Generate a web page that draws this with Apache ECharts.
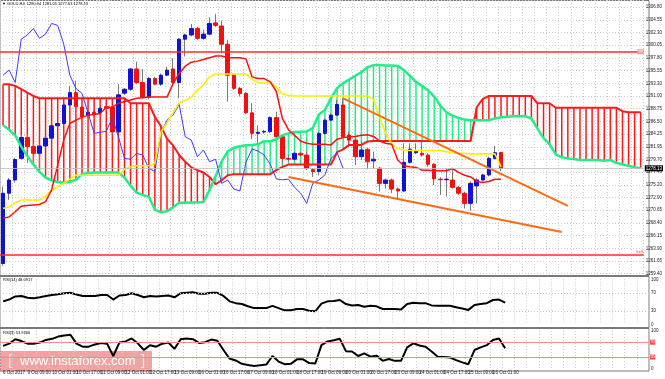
<!DOCTYPE html>
<html><head><meta charset="utf-8">
<script src="https://cdn.jsdelivr.net/npm/echarts@6/dist/echarts.min.js"></script>
<style>html,body{margin:0;padding:0;background:#fff}#c{width:665px;height:379px}</style>
</head><body><div id="c"></div>
<script>
// ---------- DATA ----------
const H6 = ['01:00','05:00','09:00','13:00','17:00','21:00'];
const sessions = [
  ['6 Oct', ['17:00','21:00']],
  ['9 Oct', H6], ['10 Oct', H6], ['11 Oct', H6], ['12 Oct', H6], ['13 Oct', H6],
  ['16 Oct', H6], ['17 Oct', H6], ['18 Oct', H6], ['19 Oct', H6], ['20 Oct', H6],
  ['23 Oct', H6], ['24 Oct', H6], ['25 Oct', H6],
  ['26 Oct', ['01:00','05:00','09:00']]
];
const FUTURE_SLOTS = 23;
const priceTickLabels = ['1259.40','1261.65','1263.90','1266.15','1268.40','1270.65','1272.90','1275.20',
  '1277.45','1279.70','1281.95','1284.25','1286.50','1288.75','1291.00','1293.30','1295.55','1297.80',
  '1300.05','1302.30','1304.55','1306.80'];

const opens = [1261.2,1273.7,1276.05,1279.9,1283.6,1282.0,1280.8,1282.1,1283.5,1285.7,
1286.1,1289.4,1291.6,1289.0,1287.5,1288.1,1288.0,1289.1,1289.0,1284.6,
1291.5,1292.2,1295.8,1293.4,1290.8,1294.1,1293.1,1294.7,1295.8,1293.4,
1301.1,1301.85,1303.0,1301.25,1302.0,1304.0,1303.45,1300.2,1294.7,1292.35,
1291.45,1288.0,1284.35,1284.6,1284.65,1287.15,1283.75,1279.9,1279.75,1280.8,
1280.5,1277.9,1277.55,1284.35,1286.7,1287.6,1289.4,1284.05,1283.15,1280.2,
1281.5,1279.45,1278.15,1275.45,1276.05,1274.45,1274.1,1279.2,1280.9,1280.8,
1280.5,1278.85,1276.2,1276.1,1276.05,1274.75,1273.7,1271.9,1275.0,1276.05,
1276.95,1279.9,1280.94];
const highs = [1274.9,1276.4,1280.0,1284.1,1284.1,1282.6,1282.5,1283.8,1285.9,1286.3,
1289.6,1292.8,1293.7,1289.3,1288.4,1288.5,1289.0,1289.3,1289.2,1293.1,
1292.4,1296.0,1297.1,1295.8,1294.4,1294.4,1295.0,1296.2,1297.7,1301.3,
1302.1,1303.8,1303.3,1302.8,1305.0,1305.6,1304.4,1301.0,1295.0,1292.6,
1291.7,1289.7,1285.8,1285.0,1287.4,1288.2,1284.0,1280.5,1281.1,1281.0,
1281.1,1278.2,1284.6,1287.0,1287.9,1290.3,1290.6,1284.65,1283.5,1282.9,
1281.8,1281.1,1278.4,1276.3,1276.3,1274.7,1282.6,1282.6,1282.6,1282.9,
1280.8,1279.1,1276.5,1278.1,1278.1,1275.0,1274.0,1275.8,1276.4,1277.2,
1280.2,1282.1,1281.05];
const lows = [1260.8,1272.5,1275.6,1279.7,1279.1,1279.1,1277.8,1281.8,1283.2,1285.4,
1285.9,1289.2,1288.9,1286.9,1287.2,1287.4,1287.8,1288.5,1284.3,1284.4,
1291.2,1291.9,1293.1,1290.5,1290.4,1292.9,1292.8,1294.5,1293.2,1290.6,
1298.0,1301.6,1301.0,1301.0,1301.8,1303.3,1298.6,1290.0,1292.1,1290.9,
1287.8,1283.3,1282.6,1284.3,1284.4,1283.5,1279.0,1279.3,1279.5,1280.2,
1277.8,1276.6,1276.9,1284.1,1286.5,1287.4,1283.5,1282.0,1278.7,1279.6,
1277.95,1278.1,1274.0,1274.55,1273.7,1272.5,1273.9,1279.0,1280.7,1280.2,
1278.4,1275.15,1273.4,1273.1,1274.5,1273.4,1271.0,1270.6,1271.9,1275.8,
1276.7,1279.7,1277.63];
const closes = [1273.7,1276.05,1279.7,1283.6,1282.0,1280.8,1282.1,1283.5,1285.7,1286.1,
1289.4,1291.6,1289.1,1287.3,1288.1,1287.8,1288.8,1288.8,1284.6,1291.2,
1292.2,1295.8,1293.4,1290.8,1294.1,1293.1,1294.7,1295.6,1293.4,1301.1,
1301.85,1303.0,1301.25,1302.0,1303.9,1303.55,1300.2,1294.7,1292.35,1291.45,
1288.0,1284.35,1284.55,1284.7,1287.15,1283.75,1279.9,1279.75,1280.8,1280.5,
1278.15,1277.55,1284.35,1286.7,1287.6,1289.5,1283.75,1283.15,1280.2,1281.4,
1279.3,1279.75,1275.45,1276.05,1274.45,1274.1,1279.2,1281.55,1281.2,1280.5,
1278.85,1276.25,1276.1,1276.2,1274.75,1273.7,1271.9,1275.45,1276.05,1276.95,
1279.9,1280.9,1278.13];

const tenkan = [1269.2,1269.5,1270.4,1271.4,1271.5,1271.6,1271.7,1272.2,1274.3,1278.7,
1283.2,1286.1,1286.7,1287.2,1287.6,1287.7,1287.9,1289.0,1289.0,1289.7,
1290.0,1290.3,1290.6,1290.7,1290.8,1290.8,1290.8,1290.8,1293.2,1295.0,
1296.3,1297.0,1297.2,1297.5,1297.8,1298.1,1298.1,1297.8,1297.8,1297.8,
1297.6,1294.4,1294.1,1294.1,1293.5,1291.8,1287.0,1285.0,1284.0,1283.0,
1282.6,1282.4,1282.4,1282.4,1282.3,1283.3,1283.6,1283.7,1283.8,1284.0,
1284.1,1283.8,1283.0,1282.6,1282.4,1279.6,1278.6,1278.4,1278.3,1277.8,
1277.8,1277.7,1277.7,1277.7,1278.1,1277.4,1276.9,1276.6,1275.8,1275.6,
1275.8,1276.2,1276.2];
const kijun = [1271.0,1271.3,1272.0,1272.5,1272.5,1272.5,1272.5,1273.2,1274.2,1274.8,
1275.5,1276.2,1276.9,1276.9,1276.9,1276.9,1276.9,1276.9,1276.9,1276.9,
1278.0,1278.4,1278.6,1278.6,1278.6,1279.0,1284.6,1286.2,1288.0,1289.8,
1290.2,1290.8,1292.0,1293.0,1294.4,1294.9,1294.9,1294.9,1294.9,1294.9,
1294.9,1294.0,1293.4,1293.3,1293.3,1292.6,1291.4,1291.1,1291.0,1291.0,
1291.0,1291.0,1291.0,1291.0,1291.0,1291.0,1291.0,1291.0,1291.0,1291.0,
1291.0,1290.4,1287.3,1284.3,1282.5,1281.6,1281.4,1281.3,1281.3,1281.3,
1281.3,1281.3,1281.3,1281.1,1280.9,1280.8,1280.8,1280.7,1280.7,1280.7,
1280.7,1280.7,1278.4];
const senkouA = [1285.8,1285.0,1284.0,1282.0,1280.3,1278.8,1277.5,1276.5,1276.0,1275.7,
1275.6,1275.7,1276.1,1277.1,1277.3,1277.4,1277.4,1277.4,1277.4,1277.4,
1276.5,1275.0,1273.8,1273.4,1273.1,1270.8,1270.3,1270.5,1271.2,1272.0,
1272.0,1272.05,1272.05,1272.15,1274.25,1276.75,1279.35,1281.15,1281.8,1282.05,
1282.25,1282.3,1282.4,1282.95,1282.95,1283.3,1284.0,1284.35,1284.6,1284.65,
1284.7,1285.3,1287.7,1288.5,1290.6,1292.4,1293.3,1293.9,1294.6,1295.25,
1296.1,1296.5,1296.5,1296.4,1296.4,1296.35,1295.6,1294.6,1293.5,1292.8,
1292.0,1290.9,1289.3,1288.1,1287.5,1287.1,1286.8,1286.7,1286.7,1286.7,
1286.7,1287.0,1287.2,1287.3,1287.4,1287.4,1287.4,1287.0,1285.2,1283.5,
1282.4,1280.6,1280.1,1279.9,1279.8,1279.6,1279.6,1279.6,1279.6,1279.5,
1279.6,1279.1,1278.8,1278.6,1278.3,1278.2];
const senkouB = [1293.1,1293.1,1292.8,1292.2,1291.6,1291.0,1290.6,1290.6,1290.6,1290.6,
1290.6,1290.6,1290.6,1290.6,1290.6,1290.6,1290.6,1290.6,1290.6,1290.6,
1290.6,1289.7,1289.7,1289.7,1289.7,1287.3,1285.6,1283.4,1282.2,1280.5,
1279.3,1278.3,1277.8,1277.4,1276.6,1275.3,1276.0,1276.9,1277.1,1277.1,
1277.1,1277.1,1277.1,1277.1,1277.1,1277.8,1278.4,1278.8,1278.8,1278.8,
1278.8,1278.8,1278.8,1278.8,1278.8,1281.0,1281.5,1282.3,1282.3,1282.3,
1282.9,1283.0,1283.0,1283.0,1283.0,1283.0,1283.0,1283.0,1283.0,1283.0,
1283.0,1283.0,1283.0,1283.0,1283.0,1283.0,1283.0,1283.0,1289.0,1290.5,
1291.0,1291.0,1291.0,1291.0,1291.0,1291.0,1291.0,1291.0,1289.7,1289.7,
1289.7,1288.9,1288.9,1288.9,1288.9,1288.9,1288.9,1288.9,1288.9,1288.9,
1288.9,1288.9,1288.3,1288.1,1288.1,1288.1];
const CHIKOU_SHIFT = 26;

const rsi14 = [51,55,62,63,59,58,60,63,65,67,
69,70,66,63,63,63,65,65,55,64,
65,69,65,60,63,62,63,64,60,69,
70,71,68,68,70,70,63,51,47,45,
40,36,36,36,41,36,31,31,34,34,
30,29,46,51,52,54,45,42,43,39,
41,40,34,34,34,33,45,48,47,47,
42,41,41,41,38,35,32,43,45,47,
54,55,48.0917];
const rsi3 = [60,66,78,73,66,66,69,76,79,85,
88,90,66,58,58,64,68,66,33,69,
72,80,67,49,62,58,66,69,52,78,
80,78,68,70,77,74,49,26,21,12,
9,6,8,10,33,18,11,12,24,24,
14,13,62,72,75,79,46,45,33,40,
31,34,20,25,20,20,56,67,61,58,
45,31,30,29,22,16,11,49,56,62,
76,80,53.9366];

// trend lines: [barIndex, price]
const upperTrend = [[56, 1290.58], [93, 1271.45]];
const lowerTrend = [[47, 1276.6], [92, 1266.8]];
const resistanceLevel = 1298.87;
const supportLevel = 1262.71;
const rsiLevels = [70, 30];

// ---------- BUILD ----------
const cats = [];
sessions.forEach(([d, hs]) => hs.forEach(h => cats.push(d + ' ' + h)));
for (let i = 0; i < FUTURE_SLOTS; i++) cats.push('');
const N = cats.length;
const lastIdx = closes.length - 1;
const chikou = cats.map((_, i) => (i + CHIKOU_SHIFT <= lastIdx ? closes[i + CHIKOU_SHIFT] : null));
const wickData = opens.map((o, i) => [o, closes[i], lows[i], highs[i]]);
const bodyData = opens.map((o, i) => [o, closes[i], Math.min(o, closes[i]), Math.max(o, closes[i])]);
const cloudData = senkouA.map((a, i) => [i, a, senkouB[i]]);

const PMIN = 1259.39, PMAX = 1308.07, PINT = 2.2575;
const GREEN = '#22ee88', RED = '#ff1a1a';
const FONT = 'Liberation Sans, Arial, sans-serif';
const gridDot = {color: '#cdcdcd', type: [1, 2], width: 1};

const W = 649;
const grids = [
  {left: 0, top: 0, width: W, height: 273.7},
  {left: 0, top: 279.3, width: W, height: 45},
  {left: 0, top: 331, width: W, height: 37.3},
  {left: 0, top: 0.5, width: W, height: 275, show: true, borderColor: '#7a7a7a', borderWidth: 1, backgroundColor: 'transparent'},
  {left: 0, top: 276.5, width: W, height: 51, show: true, borderColor: '#7a7a7a', borderWidth: 1, backgroundColor: 'transparent'},
  {left: 0, top: 328.5, width: W, height: 42.5, show: true, borderColor: '#7a7a7a', borderWidth: 1, backgroundColor: 'transparent'}
];
function catAxis(g, showLabels) {
  return {
    type: 'category', gridIndex: g, data: cats, boundaryGap: true,
    axisLine: {show: false}, axisTick: {show: false},
    axisLabel: showLabels ? {show: true, interval: 3, fontSize: 4.5, color: '#222', align: 'left', margin: 2,
      formatter: (v, i) => (i === 0 ? '6 Oct 2017' : v)} : {show: false},
    splitLine: {show: true, interval: 1, lineStyle: gridDot}
  };
}
const xAxes = [catAxis(0, false), catAxis(1, false), catAxis(2, true),
  {type: 'value', gridIndex: 3, show: false}, {type: 'value', gridIndex: 4, show: false}, {type: 'value', gridIndex: 5, show: false}];
const yAxes = [
  {type: 'value', gridIndex: 0, position: 'right', min: PMIN, max: PMAX, interval: PINT,
    axisLine: {show: false}, axisTick: {show: false},
    axisLabel: {fontSize: 4.5, color: '#222', margin: 2, showMaxLabel: false,
      formatter: v => priceTickLabels[Math.round((v - PMIN) / PINT)] || ''},
    splitLine: {show: true, lineStyle: gridDot}},
  {type: 'value', gridIndex: 1, position: 'right', min: 0, max: 100, interval: 10,
    axisLine: {show: false}, axisTick: {show: false}, splitLine: {show: false},
    axisLabel: {fontSize: 4.5, color: '#222', margin: 2, formatter: v => ([0, 30, 70, 100].includes(v) ? String(v) : '')}},
  {type: 'value', gridIndex: 2, position: 'right', min: 0, max: 100, interval: 10,
    axisLine: {show: false}, axisTick: {show: false}, splitLine: {show: false},
    axisLabel: {fontSize: 4.5, color: '#222', margin: 2, formatter: v => ([0, 100].includes(v) ? String(v) : '')}},
  {type: 'value', gridIndex: 3, show: false}, {type: 'value', gridIndex: 4, show: false}, {type: 'value', gridIndex: 5, show: false}
];

function lineSeries(name, data, color, width, x, y) {
  return {type: 'line', name, data, xAxisIndex: x || 0, yAxisIndex: y || 0, symbol: 'none', showSymbol: false,
    silent: true, lineStyle: {color, width}, emphasis: {disabled: true}};
}

const option = {
  animation: false,
  backgroundColor: '#ffffff',
  textStyle: {fontFamily: FONT},
  grid: grids, xAxis: xAxes, yAxis: yAxes,
  series: [
    {type: 'custom', name: 'cloud', xAxisIndex: 0, yAxisIndex: 0, data: cloudData, clip: true, silent: true,
      encode: {x: 0, y: [1, 2]},
      renderItem: function (params, api) {
        const i = api.value(0);
        const p1 = api.coord([i, api.value(1)]);
        const p2 = api.coord([i, api.value(2)]);
        const bear = api.value(2) > api.value(1);
        return {type: 'line', shape: {x1: p1[0], y1: p1[1], x2: p2[0], y2: p2[1]},
          style: {stroke: bear ? RED : GREEN, lineWidth: 1.5}};
      }},
    lineSeries('Senkou Span B', senkouB, RED, 2),
    lineSeries('Senkou Span A', senkouA, GREEN, 2.5),
    lineSeries('Chikou Span', chikou, '#3b3bff', 1),
    lineSeries('Kijun-sen', kijun, '#ffee00', 1.6),
    lineSeries('Tenkan-sen', tenkan, '#ff1010', 1.5),
    {type: 'candlestick', name: 'wicks', data: wickData, xAxisIndex: 0, yAxisIndex: 0, barWidth: 1, silent: true,
      itemStyle: {color: '#7a7a7a', color0: '#7a7a7a', borderColor: '#7a7a7a', borderColor0: '#7a7a7a', borderWidth: 1}},
    {type: 'candlestick', name: 'GOLD,H4', data: bodyData, xAxisIndex: 0, yAxisIndex: 0, barWidth: 4, silent: true,
      itemStyle: {color: '#1212d4', color0: '#f21010', borderColor: '#1212d4', borderColor0: '#f21010', borderWidth: 1},
      markLine: {silent: true, symbol: ['none', 'none'], animation: false, data: [
        {yAxis: resistanceLevel, lineStyle: {color: '#ff2a2a', width: 1.6, type: 'solid'},
          label: {show: true, position: 'insideEnd', formatter: 'TP', fontSize: 3.5, color: '#fff', backgroundColor: '#ff9a9a', padding: [0.5, 1], distance: 0}},
        {yAxis: supportLevel, lineStyle: {color: '#ff2a2a', width: 1.6, type: 'solid'},
          label: {show: true, position: 'insideEndTop', formatter: 'Sell', fontSize: 4, color: '#ff4040', distance: 1}},
        {yAxis: closes[lastIdx], lineStyle: {color: '#bdbdbd', width: 0.8, type: 'solid'},
          label: {show: true, position: 'end', formatter: closes[lastIdx].toFixed(2), fontSize: 4.5, color: '#fff', backgroundColor: '#000', padding: [0.5, 1], distance: 1}}
      ]}},
    {type: 'line', name: 'upper trend', data: upperTrend, xAxisIndex: 0, yAxisIndex: 0, symbol: 'none', silent: true,
      lineStyle: {color: '#ff6a10', width: 2}},
    {type: 'line', name: 'lower trend', data: lowerTrend, xAxisIndex: 0, yAxisIndex: 0, symbol: 'none', silent: true,
      lineStyle: {color: '#ff6a10', width: 2}},
    Object.assign(lineSeries('RSI(14)', rsi14, '#000000', 2, 1, 1), {
      markLine: {silent: true, symbol: ['none', 'none'], label: {show: false},
        data: rsiLevels.map(v => ({yAxis: v, lineStyle: {color: '#c8c8c8', type: [1, 2], width: 1}}))}}),
    Object.assign(lineSeries('RSI(3)', rsi3, '#000000', 2, 2, 2), {
      markLine: {silent: true, symbol: ['none', 'none'],
        data: rsiLevels.map(v => ({yAxis: v, lineStyle: {color: '#f28a8a', type: 'solid', width: 1},
          label: {show: true, position: 'end', formatter: String(v), fontSize: 3.8, color: '#fff', backgroundColor: '#ff4a4a', padding: [0.5, 0.5], distance: 1}}))}})
  ],
  graphic: [
    {type: 'text', left: 2, top: 1.5, z: 100, silent: true,
      style: {text: '\u25BC GOLD,H4  ' + [opens[lastIdx], highs[lastIdx], lows[lastIdx], closes[lastIdx]].map(v => v.toFixed(2)).join(' '),
        fontSize: 4, fill: '#000', fontFamily: FONT}},
    {type: 'text', left: 3, top: 278, z: 100, silent: true,
      style: {text: 'RSI(14) ' + rsi14[lastIdx].toFixed(4), fontSize: 4, fill: '#000', fontFamily: FONT}},
    {type: 'text', left: 3, top: 330.5, z: 100, silent: true,
      style: {text: 'RSI(3) ' + rsi3[lastIdx].toFixed(4), fontSize: 4, fill: '#000', fontFamily: FONT}},
    {type: 'group', left: 0, top: 351, z: 100, silent: true, children: [
      {type: 'rect', shape: {x: 0, y: 0, width: 152, height: 20}, style: {fill: 'rgba(226,88,88,0.55)'}},
      {type: 'text', x: 8, y: 10, style: {text: '[', fontSize: 15, fill: 'rgba(255,255,255,0.75)', verticalAlign: 'middle', fontFamily: FONT}},
      {type: 'text', x: 20, y: 10.5, style: {text: 'www.instaforex.com', fontSize: 13, fill: '#ffffff', verticalAlign: 'middle', fontFamily: FONT}},
      {type: 'text', x: 141, y: 10, style: {text: ']', fontSize: 15, fill: 'rgba(255,255,255,0.75)', verticalAlign: 'middle', fontFamily: FONT}}
    ]}
  ]
};
const chart = echarts.init(document.getElementById('c'), null, {renderer: 'canvas'});
chart.setOption(option);
</script>
</body></html>
